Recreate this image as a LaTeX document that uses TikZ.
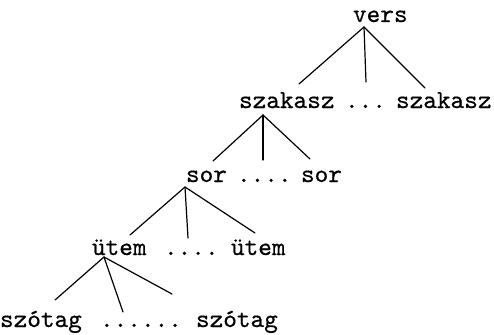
\documentclass[tikz,border=0pt]{standalone}
\usepackage{fontspec}
\newfontfamily\wordfont[FakeBold=0.5]{lmmono10-regular.otf}
\begin{document}
\begin{tikzpicture}[x=1pt,y=-1pt,
  word/.style={anchor=base west,inner sep=0pt,outer sep=0pt,
    font=\fontsize{26}{30}\selectfont\wordfont},
  branch/.style={line width=1.2pt,line cap=round}]
\useasboundingbox (0,0) rectangle (494,334);

% words of the hierarchy
\node[word] (vers)  at (353,22)  {vers};
\node[word] (sz1)   at (239,108) {szakasz};
\node[word] (szd)   at (345,108) {...};
\node[word] (sz2)   at (396,108) {szakasz};
\node[word] (sor1)  at (186,182) {sor};
\node[word] (sord)  at (237,182) {....};
\node[word] (sor2)  at (301,182) {sor};
\node[word] (ut1)   at (92,255)  {ütem};
\node[word] (utd)   at (164,255) {....};
\node[word] (ut2)   at (231,255) {ütem};
\node[word] (st1)   at (0,327)   {szótag};
\node[word] (std)   at (100,327) {......};
\node[word] (st2)   at (196,327) {szótag};

% apexes under the parent words and the free ends of the branches
\coordinate (vers-a) at (364,27);
\coordinate (vers-l) at (299,84);
\coordinate (vers-m) at (366,82);
\coordinate (vers-r) at (425,88);
\coordinate (sz-a) at (263,115);
\coordinate (sz-l) at (213,161);
\coordinate (sz-m) at (263,160);
\coordinate (sz-r) at (310,159);
\coordinate (sor-a) at (185,187);
\coordinate (sor-l) at (130,235);
\coordinate (sor-m) at (188,238);
\coordinate (sor-r) at (255,233);
\coordinate (ut-a) at (104,257);
\coordinate (ut-l) at (55,300);
\coordinate (ut-m) at (123,312);
\coordinate (ut-r) at (172,294);

\foreach \p in {vers,sz,sor,ut}
  \foreach \c in {l,m,r}
    \draw[branch] (\p-a) -- (\p-\c);
\end{tikzpicture}
\end{document}
